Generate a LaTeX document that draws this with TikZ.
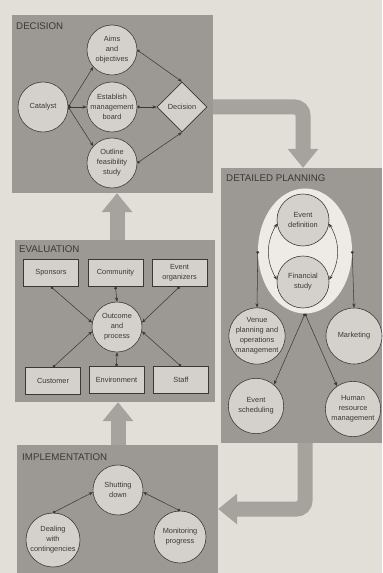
\documentclass[tikz,border=0pt]{standalone}
\usepackage{fontspec}
\setmainfont{Liberation Sans}
\usetikzlibrary{shapes.geometric, arrows.meta}
\definecolor{paperGray}{RGB}{226,222,216}
\definecolor{panelGray}{RGB}{156,152,148}
\definecolor{bandGray}{RGB}{166,162,158}
\definecolor{discGray}{RGB}{212,208,203}
\definecolor{ovalGray}{RGB}{238,235,230}
\definecolor{inkGray}{RGB}{58,56,54}

\begin{document}
\begin{tikzpicture}[x=0.03cm, y=-0.03cm]
    % Styles
    \tikzstyle{panel} = [rectangle, fill=panelGray, inner sep=0pt]
    \tikzstyle{title} = [anchor=north west, inner sep=0pt, text=inkGray, font=\fontsize{8.3}{10}\selectfont]
    \tikzstyle{disc} = [circle, draw=inkGray, line width=0.5pt, fill=discGray, text=inkGray, minimum size=1.5cm, inner sep=0pt, align=center, font=\fontsize{6.3}{8.5}\selectfont]
    \tikzstyle{card} = [rectangle, draw=inkGray, line width=0.5pt, fill=discGray, text=inkGray, minimum width=1.65cm, minimum height=0.81cm, inner sep=0pt, align=center, font=\fontsize{6.3}{8.5}\selectfont]
    \tikzstyle{link} = [draw=inkGray, line width=0.45pt, {Circle[length=2.4pt]}-{Stealth[length=3.6pt, width=2.8pt]}]
    \tikzstyle{twoway} = [draw=inkGray, line width=0.45pt, {Stealth[length=3.6pt, width=2.8pt]}-{Stealth[length=3.6pt, width=2.8pt]}]
    \tikzstyle{band} = [draw=bandGray, line width=0.45cm, rounded corners=0.25cm, -{Triangle[width=0.93cm, length=0.57cm, line width=0pt]}]

    % Paper
    \fill[paperGray] (0,0) rectangle (382,573);
    \useasboundingbox (0,0) rectangle (382,573);

    % Panels
    \node[panel, minimum width=6.03cm, minimum height=5.34cm] (decP) at (112.5,104) {};
    \node[panel, minimum width=6.0cm, minimum height=4.86cm] (evP) at (115,321) {};
    \node[panel, minimum width=4.83cm, minimum height=8.25cm] (dpP) at (301.5,305.5) {};
    \node[panel, minimum width=6.03cm, minimum height=3.84cm] (impP) at (117.5,509) {};
    \node[title] at (16,22) {DECISION};
    \node[title] at (19,245) {EVALUATION};
    \node[title] at (226,174) {DETAILED PLANNING};
    \node[title] at (22,453) {IMPLEMENTATION};

    % Decision
    \node[disc] (cat) at (43,107) {Catalyst};
    \node[disc] (aims) at (112,50) {Aims\\and\\objectives};
    \node[disc] (board) at (112,107) {Establish\\management\\board};
    \node[disc] (study) at (112,163) {Outline\\feasibility\\study};
    \node[diamond, aspect=1, draw=inkGray, line width=0.5pt, fill=discGray, text=inkGray, minimum size=1.5cm, inner sep=0pt, font=\fontsize{6.3}{8.5}\selectfont] (dec) at (182,107) {Decision};
    \draw[link] (cat.east) -- (aims.222);
    \draw[link] (cat.east) -- (board.west);
    \draw[link] (cat.east) -- (study.138);
    \draw[link] (aims.east) -- (dec.north);
    \draw[link] (board.east) -- (dec.west);
    \draw[link] (study.east) -- (dec.south);

    % Evaluation
    \node[card] (spon) at (51,273) {Sponsors};
    \node[card] (comm) at (115.5,273) {Community};
    \node[card] (org) at (179.5,273) {Event\\organizers};
    \node[card] (cust) at (53,381) {Customer};
    \node[card] (env) at (116.5,380) {Environment};
    \node[card] (staff) at (181,380) {Staff};
    \node[disc] (outc) at (117,327) {Outcome\\and\\process};
    \draw[link] (spon.south) -- (outc.170);
    \draw[link] (comm.south) -- (outc.north);
    \draw[link] (org.south) -- (outc.10);
    \draw[link] (cust.north) -- (outc.190);
    \draw[link] (env.north) -- (outc.south);
    \draw[link] (staff.north) -- (outc.350);

    % Detailed planning
    \node[ellipse, fill=ovalGray, minimum width=2.82cm, minimum height=3.75cm] (ell) at (305,251) {};
    \node[disc, minimum size=1.56cm] (evd) at (303,220) {Event\\definition};
    \node[disc, minimum size=1.56cm] (fin) at (303,282) {Financial\\study};
    \node[disc, minimum size=1.68cm] (venue) at (257,336) {Venue\\planning and\\operations\\management};
    \node[disc, minimum size=1.68cm] (mkt) at (354,336) {Marketing};
    \node[disc, minimum size=1.66cm] (sched) at (256,406) {Event\\scheduling};
    \node[disc, minimum size=1.66cm] (hrm) at (353,409) {Human\\resource\\management};
    \draw[twoway] (evd.188) to[bend right=30] (fin.175);
    \draw[twoway] (evd.352) to[bend left=30] (fin.5);
    \draw[link] (ell.west) -- (venue.north);
    \draw[link] (ell.east) -- (mkt.north);
    \draw[link] (ell.south) -- (sched.50);
    \draw[link] (ell.south) -- (hrm.125);

    % Implementation
    \node[disc] (shut) at (118,490) {Shutting\\down};
    \node[disc, minimum size=1.62cm] (deal) at (53,540) {Dealing\\with\\contingencies};
    \node[disc, minimum size=1.56cm] (mon) at (180,537) {Monitoring\\progress};
    \draw[link] (deal.north) -- (shut.185);
    \draw[link] (mon.north) -- (shut.355);

    % Phase arrows
    \draw[band] (decP.east |- dec.east) -| (evd.center |- dpP.north);
    \draw[band] (ell.south |- dpP.south) |- (impP.east);
    \draw[band] (impP.north -| shut.center) -- (evP.south -| shut.center);
    \draw[band] (evP.north -| outc.center) -- (decP.south -| outc.center);
\end{tikzpicture}
\end{document}
